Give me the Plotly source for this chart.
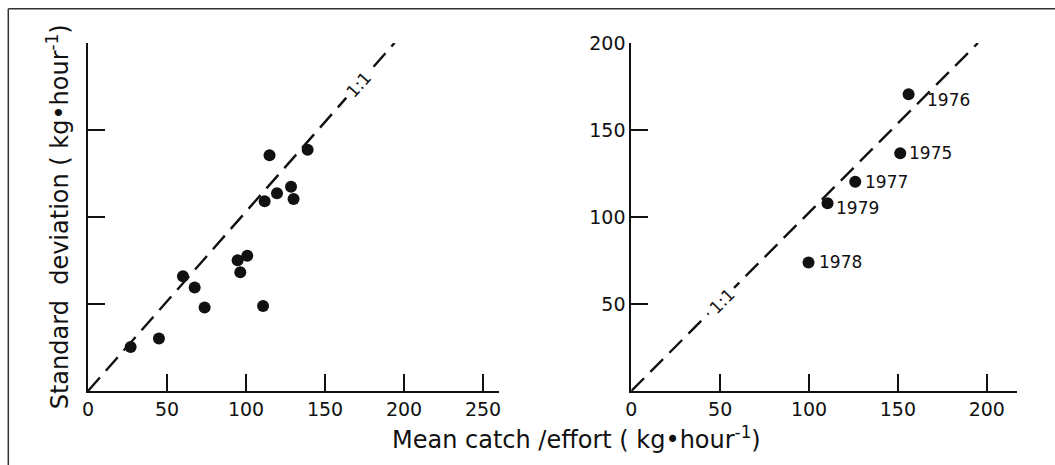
import plotly.graph_objects as go

# ---- data ----
left_x = [27.0, 44.9, 60.1, 67.5, 73.8, 94.7, 96.4, 100.8, 110.8, 111.8, 114.9, 119.6, 128.5, 130.1, 139.0]
left_y = [25.3, 30.2, 66.0, 59.5, 48.0, 75.2, 68.2, 77.7, 48.8, 109.0, 135.5, 113.6, 117.4, 110.4, 138.7]

years = ["1976", "1975", "1977", "1979", "1978"]
right_x = [156.0, 151.3, 126.0, 110.4, 99.7]
right_y = [170.6, 136.7, 120.3, 107.9, 73.9]

left_line_x = [0, 194]
left_line_y = [0, 200]
right_line_x = [0, 195]
right_line_y = [0, 200]

x_ticks_left = [0, 50, 100, 150, 200, 250]
x_ticks_right = [0, 50, 100, 150, 200]
y_ticks = [50, 100, 150, 200]

one_to_one_left = (171, 176)
one_to_one_right = (51, 52)

# ---- styling ----
FONT = "DejaVu Sans"
INK = "#111111"
W, H = 1055, 465
L, R, T, B = 87.7, 38.3, 43.3, 74.3
PW = W - L - R
PH = H - T - B

def px_x(p):
    return (p - L) / PW

def px_y(p):
    return (H - B - p) / PH

fig = go.Figure()

dash = "18px,9px"
fig.add_trace(go.Scatter(x=left_line_x, y=left_line_y, mode="lines",
                         line=dict(color=INK, width=2.4, dash=dash),
                         xaxis="x", yaxis="y", hoverinfo="skip"))
fig.add_trace(go.Scatter(x=right_line_x, y=right_line_y, mode="lines",
                         line=dict(color=INK, width=2.4, dash=dash),
                         xaxis="x2", yaxis="y2", hoverinfo="skip"))
fig.add_trace(go.Scatter(x=left_x, y=left_y, mode="markers",
                         marker=dict(color=INK, size=12),
                         xaxis="x", yaxis="y"))
fig.add_trace(go.Scatter(x=right_x, y=right_y, mode="markers",
                         marker=dict(color=INK, size=12),
                         xaxis="x2", yaxis="y2"))

annotations = []
label_shift = {"1976": (16, -6), "1975": (7, 0), "1977": (8, 0), "1979": (6, -5), "1978": (8, 0)}
for yr, xv, yv in zip(years, right_x, right_y):
    dx, dy = label_shift[yr]
    annotations.append(dict(x=xv, y=yv, xref="x2", yref="y2", text=yr,
                            showarrow=False, xanchor="left", yanchor="middle",
                            xshift=dx, yshift=dy,
                            font=dict(family=FONT, size=17, color=INK)))

annotations.append(dict(x=one_to_one_left[0], y=one_to_one_left[1], xref="x", yref="y",
                        text="1:1", showarrow=False, textangle=-48,
                        bgcolor="white", borderpad=4,
                        font=dict(family=FONT, size=17, color=INK)))
annotations.append(dict(x=one_to_one_right[0], y=one_to_one_right[1], xref="x2", yref="y2",
                        text="1:1", showarrow=False, textangle=-45,
                        bgcolor="white", borderpad=4,
                        font=dict(family=FONT, size=17, color=INK)))

annotations.append(dict(x=px_x(576), y=px_y(438), xref="paper", yref="paper",
                        text="Mean catch /effort ( kg•hour<sup>-1</sup>)",
                        showarrow=False, xanchor="center", yanchor="middle",
                        font=dict(family=FONT, size=24, color=INK)))
annotations.append(dict(x=px_x(58), y=px_y(217), xref="paper", yref="paper",
                        text="Standard  deviation ( kg•hour<sup>-1</sup>)",
                        showarrow=False, textangle=-90, xanchor="center", yanchor="middle",
                        font=dict(family=FONT, size=24, color=INK)))

axis_common = dict(showgrid=False, zeroline=False, showline=True, linecolor=INK, linewidth=2,
                   ticks="inside", ticklen=17, tickwidth=2, tickcolor=INK,
                   tickfont=dict(family=FONT, size=19, color=INK), fixedrange=True)

fig.update_layout(
    width=W, height=H,
    margin=dict(l=L, r=R, t=T, b=B),
    paper_bgcolor="white", plot_bgcolor="white",
    showlegend=False,
    xaxis=dict(domain=[0, px_x(498.5)], range=[0, 260], tickvals=x_ticks_left,
               anchor="y", **axis_common),
    yaxis=dict(domain=[0, 1], range=[0, 200], tickvals=y_ticks, showticklabels=False,
               anchor="x", **axis_common),
    xaxis2=dict(domain=[px_x(631), 1], range=[0, 217], tickvals=x_ticks_right,
                anchor="y2", **axis_common),
    yaxis2=dict(domain=[0, 1], range=[0, 200], tickvals=y_ticks,
                anchor="x2", **axis_common),
    annotations=annotations,
    shapes=[
        dict(type="line", xref="paper", yref="paper", x0=px_x(8), x1=px_x(1060),
             y0=px_y(9), y1=px_y(9), line=dict(color="#333333", width=1.5)),
        dict(type="line", xref="paper", yref="paper", x0=px_x(8), x1=px_x(8),
             y0=px_y(9), y1=px_y(470), line=dict(color="#333333", width=1.5)),
    ],
)

fig.write_html("out.html", config={"displayModeBar": False},
               post_script="document.body.style.margin='0';document.body.style.overflow='hidden';")
